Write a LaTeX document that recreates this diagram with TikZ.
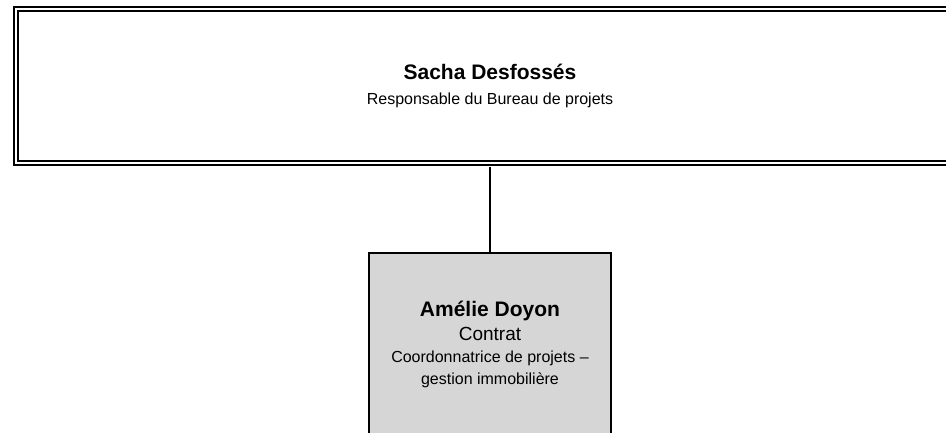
\documentclass[tikz,border=0pt]{standalone}
\usepackage{fontspec}
\setmainfont{Liberation Sans}

\definecolor{boxgray}{HTML}{D6D6D6}

\tikzset{
    chefbox/.style={draw=black, line width=1.8pt, double=white, double distance=2.4pt,
        minimum width=948pt, minimum height=154pt, inner sep=0pt, align=center,
        font=\fontsize{16}{25}\selectfont},
    postebox/.style={draw=black, line width=2pt, fill=boxgray,
        minimum width=242pt, minimum height=188pt, inner sep=0pt, align=center,
        text depth=8.5pt, font=\fontsize{16}{22.3}\selectfont},
    lien/.style={line width=2pt, black}
}

\begin{document}
\begin{tikzpicture}[x=1pt,y=-1pt]
    \useasboundingbox (0,0) rectangle (946,432);
    \clip (0,0) rectangle (946,432);

    % responsable
    \node[chefbox] (chef) at (490,86)
        {{\fontsize{21}{24}\bfseries Sacha Desfossés}\\
         Responsable du Bureau de projets};

    % poste sous contrat
    \node[postebox] (poste) at (490,347)
        {{\fontsize{21}{24}\bfseries Amélie Doyon}\\[2pt]
         {\fontsize{19}{24}\selectfont Contrat}\\
         Coordonnatrice de projets –\\
         gestion immobilière};

    \draw[lien, shorten <=3pt] (chef.south) -- (poste.north);
\end{tikzpicture}
\end{document}
